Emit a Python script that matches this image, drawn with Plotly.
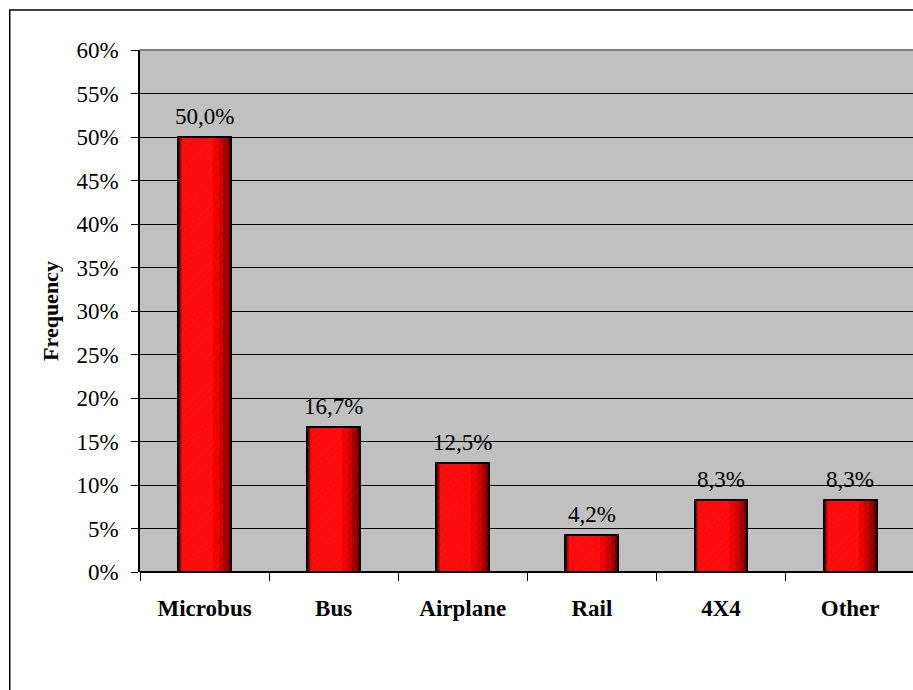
import plotly.graph_objects as go

# Share of respondents by mode of transport
categories = ["Microbus", "Bus", "Airplane", "Rail", "4X4", "Other"]
frequency_pct = [50.0, 16.7, 12.5, 4.2, 8.3, 8.3]
y_ticks = list(range(0, 61, 5))
y_tick_text = [f"{t}%" for t in y_ticks]

SERIF = "Liberation Serif"
BAR_W = 0.41

fig = go.Figure()

# layered bars give a dark-edged red shading across each column
shades = [
    (-BAR_W / 2, BAR_W, "#6e0000"),
    (-0.19, 0.37, "#9c0000"),
    (-0.185, 0.33, "#cc0000"),
    (-0.18, 0.29, "#ee0000"),
    (-0.175, 0.24, "#ff0a0a"),
]
for off, w, col in shades:
    fig.add_trace(go.Bar(
        x=categories, y=frequency_pct, width=w, offset=off,
        marker=dict(color=col, line=dict(width=0)),
        hoverinfo="skip", showlegend=False,
    ))

# fine diagonal texture over the shading
fig.add_trace(go.Bar(
    x=categories, y=frequency_pct, width=BAR_W, offset=-BAR_W / 2,
    marker=dict(
        color="rgba(0,0,0,0)",
        line=dict(width=0),
        pattern=dict(shape="/", fgcolor="rgba(255,140,140,0.35)",
                     bgcolor="rgba(0,0,0,0)", size=5, solidity=0.12),
    ),
    hoverinfo="skip", showlegend=False,
))

# black outline on top
fig.add_trace(go.Bar(
    x=categories, y=frequency_pct, width=BAR_W, offset=-BAR_W / 2,
    marker=dict(color="rgba(0,0,0,0)", line=dict(color="black", width=2)),
    showlegend=False,
))

# value labels with decimal comma
for cat, v in zip(categories, frequency_pct):
    fig.add_annotation(
        x=cat, y=v, text=f"{v:.1f}".replace(".", ",") + "%",
        showarrow=False, yanchor="bottom", yshift=6,
        font=dict(family=SERIF, size=23, color="black"),
    )

# outer chart frame
fig.add_shape(type="rect", xref="paper", yref="paper",
              x0=-0.1685, x1=1.2, y0=-0.5, y1=1.0766,
              line=dict(color="black", width=1.5), fillcolor="rgba(0,0,0,0)",
              layer="below")
# grey top border of the plotting area
fig.add_shape(type="line", xref="paper", yref="paper",
              x0=0, x1=1, y0=1, y1=1,
              line=dict(color="#808080", width=2))

fig.update_layout(
    width=913, height=690,
    margin=dict(l=140, r=0, t=50, b=118),
    paper_bgcolor="white",
    plot_bgcolor="#c0c0c0",
    barmode="overlay",
    bargap=0,
    font=dict(family=SERIF, color="black"),
    xaxis=dict(
        type="category",
        range=[-0.5, 5.487],
        tickson="boundaries",
        ticks="outside", ticklen=8, tickcolor="black", tickwidth=1,
        showline=False, showgrid=False,
        tickfont=dict(family=SERIF, size=23, weight="bold"),
        ticklabelstandoff=20,
    ),
    yaxis=dict(
        range=[0, 60],
        tickmode="array",
        tickvals=y_ticks,
        ticktext=y_tick_text,
        ticks="outside", ticklen=7, tickcolor="black", tickwidth=1,
        showline=True, linecolor="black", linewidth=1.5,
        showgrid=True, gridcolor="black", gridwidth=1,
        zeroline=True, zerolinecolor="black", zerolinewidth=1.5,
        tickfont=dict(family=SERIF, size=23),
        ticklabelstandoff=8,
        title=dict(text="Frequency", standoff=12,
                   font=dict(family=SERIF, size=22, weight="bold")),
    ),
)

fig.write_html("out.html")
